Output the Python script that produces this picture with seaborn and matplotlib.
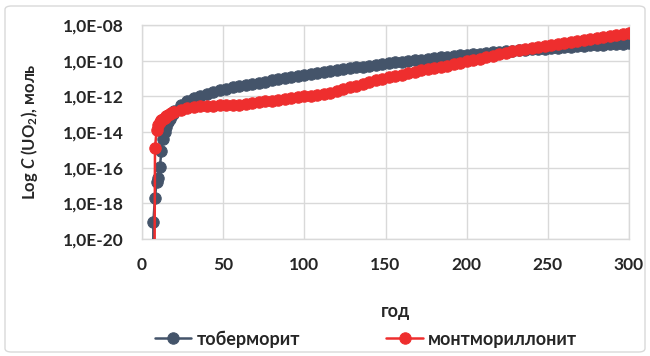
import numpy as np
import matplotlib
matplotlib.use("Agg")
import matplotlib.pyplot as plt
import seaborn as sns
from matplotlib.ticker import FuncFormatter, FixedLocator
from matplotlib.patches import FancyBboxPatch

# years and log10 of concentration (-40 = below the axis)
years_tob = [6, 7, 8, 9, 10, 11, 12, 13, 14, 15, 16, 17, 18, 19, 20,
             24, 28, 32, 36, 40, 44, 48, 52, 56, 60, 64, 68, 72, 76, 80,
             84, 88, 92, 96, 100, 104, 108, 112, 116, 120, 124, 128, 132, 136, 140,
             144, 148, 152, 156, 160, 164, 168, 172, 176, 180, 184, 188, 192, 196, 200,
             204, 208, 212, 216, 220, 224, 228, 232, 236, 240, 244, 248, 252, 256, 260,
             264, 268, 272, 276, 280, 284, 288, 292, 296, 300]
log_tob = [-40, -19.05, -17.68, -16.8, -16.6, -15.95, -15.05, -14.38, -14.0, -13.7,
           -13.45, -13.25, -13.1, -12.97, -12.85,
           -12.5, -12.28, -12.1, -11.97, -11.86, -11.76, -11.67, -11.58, -11.5, -11.43,
           -11.36, -11.3, -11.23, -11.17, -11.11,
           -11.05, -10.99, -10.93, -10.87, -10.81, -10.75, -10.69, -10.63, -10.58, -10.53,
           -10.48, -10.43, -10.38, -10.33, -10.28,
           -10.23, -10.18, -10.14, -10.1, -10.06, -10.02, -9.98, -9.94, -9.9, -9.86,
           -9.82, -9.78, -9.74, -9.7, -9.66,
           -9.63, -9.6, -9.57, -9.54, -9.51, -9.48, -9.45, -9.42, -9.39, -9.37,
           -9.34, -9.32, -9.29, -9.27, -9.24,
           -9.22, -9.19, -9.17, -9.14, -9.12, -9.1, -9.08, -9.06, -9.04, -9.02]

years_mont = [7, 8, 9, 10, 11, 12, 13, 14, 15, 16, 17, 18, 19, 20,
              24, 28, 32, 36, 40, 44, 48, 52, 56, 60, 64, 68, 72, 76, 80,
              84, 88, 92, 96, 100, 104, 108, 112, 116, 120, 124, 128, 132, 136, 140,
              144, 148, 152, 156, 160, 164, 168, 172, 176, 180, 184, 188, 192, 196, 200,
              204, 208, 212, 216, 220, 224, 228, 232, 236, 240, 244, 248, 252, 256, 260,
              264, 268, 272, 276, 280, 284, 288, 292, 296, 300]
log_mont = [-40, -14.9, -13.9, -13.6, -13.45, -13.35, -13.25, -13.2, -13.12, -13.05,
            -13.0, -12.95, -12.9, -12.86,
            -12.75, -12.66, -12.6, -12.56, -12.54, -12.52, -12.5, -12.49, -12.48, -12.46,
            -12.42, -12.36, -12.3, -12.26, -12.24,
            -12.2, -12.16, -12.12, -12.06, -12.0, -11.96, -11.93, -11.88, -11.8, -11.7,
            -11.6, -11.5, -11.4, -11.3, -11.2,
            -11.1, -11.02, -10.94, -10.86, -10.78, -10.7, -10.62, -10.55, -10.48, -10.42,
            -10.35, -10.28, -10.2, -10.12, -10.04,
            -9.96, -9.88, -9.8, -9.72, -9.64, -9.56, -9.48, -9.41, -9.34, -9.28,
            -9.22, -9.17, -9.12, -9.06, -9.0,
            -8.95, -8.89, -8.84, -8.78, -8.73, -8.68, -8.62, -8.57, -8.52, -8.47]

x_ticks = [0, 50, 100, 150, 200, 250, 300]
y_ticks = [1e-20, 1e-18, 1e-16, 1e-14, 1e-12, 1e-10, 1e-08]

blue = "#44546A"
red = "#EE2E2E"
txt = "#262626"

sns.set_style("white")
plt.rcParams["font.family"] = ["Lato", "Open Sans", "DejaVu Sans"]
plt.rcParams["font.weight"] = "bold"
plt.rcParams["mathtext.fontset"] = "custom"
plt.rcParams["mathtext.rm"] = "Lato:bold"
plt.rcParams["mathtext.it"] = "Lato:italic:bold"

fig = plt.figure(figsize=(6.5, 3.56), dpi=100)
ax = fig.add_axes([142 / 650, 1 - 239 / 356, 487 / 650, 214 / 356])

sns.lineplot(x=years_tob, y=10.0 ** np.array(log_tob), ax=ax, color=blue,
             marker="o", markersize=8.2, markeredgecolor=blue, linewidth=1.8,
             label="тоберморит", zorder=3)
sns.lineplot(x=years_mont, y=10.0 ** np.array(log_mont), ax=ax, color=red,
             marker="o", markersize=8.2, markeredgecolor=red, linewidth=1.8,
             label="монтмориллонит", zorder=4)

ax.set_yscale("log")
ax.set_ylim(1e-20, 1e-08)
ax.set_xlim(0, 300)
ax.xaxis.set_major_locator(FixedLocator(x_ticks))
ax.yaxis.set_major_locator(FixedLocator(y_ticks))
ax.yaxis.set_minor_locator(FixedLocator([]))
ax.yaxis.set_major_formatter(FuncFormatter(
    lambda v, p: "1,0E%03d" % int(round(np.log10(v)))))

ax.grid(True, color="#D9D9D9", linewidth=1.0)
for s in ax.spines.values():
    s.set_color("#D9D9D9")
    s.set_linewidth(1.0)
ax.tick_params(axis="both", length=0, labelsize=12.5, colors=txt)
ax.tick_params(axis="y", pad=13)
ax.tick_params(axis="x", pad=13)
for lab in ax.get_xticklabels() + ax.get_yticklabels():
    lab.set_fontweight("bold")

ax.set_xlabel("год", fontsize=13, fontweight="bold", color=txt)
ax.xaxis.set_label_coords(0.52, -0.30)
ax.set_ylabel(r"Log $C$ (UO$_2$), моль", fontsize=12, fontweight="bold", color=txt)
ax.yaxis.set_label_coords(-0.21, 0.5)

ax.get_legend().remove()
h, l = ax.get_legend_handles_labels()
leg = fig.legend(h, l, loc="center", bbox_to_anchor=(0.563, 1 - 339 / 356),
                 ncol=2, frameon=False, fontsize=13, columnspacing=4.8,
                 handlelength=2.0, handletextpad=0.3)
for t in leg.get_texts():
    t.set_fontweight("bold")
    t.set_color(txt)

fig.patches.append(FancyBboxPatch((5 / 650, 4 / 356), 640 / 650, 346 / 356,
                                  boxstyle="round,pad=0,rounding_size=0.01",
                                  transform=fig.transFigure, fill=False,
                                  edgecolor="#D9D9D9", linewidth=1.0))

fig.savefig("out.png", dpi=100)
